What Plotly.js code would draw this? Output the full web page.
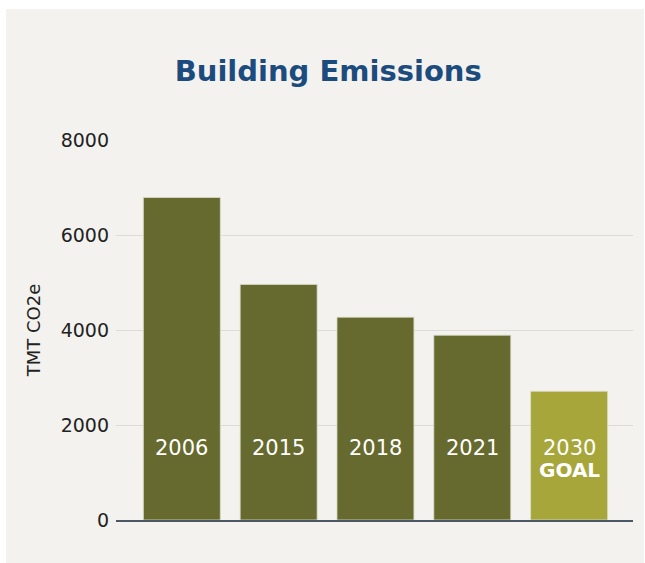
<!DOCTYPE html>
<html>
<head>
<meta charset="utf-8">
<script src="https://cdn.plot.ly/plotly-3.0.1.min.js"></script>
<style>
  html, body { margin: 0; padding: 0; background: #ffffff; width: 645px; height: 563px; overflow: hidden; }
  #chart { position: absolute; left: 6px; top: 9px; width: 638px; height: 554px; }
</style>
</head>
<body>
<div id="chart"></div>
<script>
const categories = ['2006', '2015', '2018', '2021', '2030'];
const barLabels = ['2006', '2015', '2018', '2021', '2030'];
const goalLabel = 'GOAL';
const goalIndex = 4;
const emissions = [6790, 4960, 4270, 3890, 2710];
const barColors = ['#666a2e', '#666a2e', '#666a2e', '#666a2e', '#a7a63b'];
const yTicks = [0, 2000, 4000, 6000, 8000];

const FONT = '"DejaVu Sans", sans-serif';

const trace = {
  type: 'bar',
  x: categories,
  y: emissions,
  width: 0.795,
  marker: { color: barColors, line: { color: 'rgba(220,220,200,0.8)', width: 1 } },
  hoverinfo: 'x+y'
};

const annotations = categories.map((c, i) => ({
  x: i, y: 1515, xref: 'x', yref: 'y',
  text: barLabels[i], showarrow: false,
  yanchor: 'middle',
  font: { family: FONT, size: 21, color: '#ffffff' }
}));
annotations.push({
  x: goalIndex, y: 1515, xref: 'x', yref: 'y', yshift: -22,
  text: '<b>' + goalLabel + '</b>', showarrow: false, yanchor: 'middle',
  font: { family: FONT, size: 20, color: '#ffffff' }
});

const layout = {
  width: 638, height: 554,
  margin: { l: 110, r: 11, t: 131, b: 43 },
  paper_bgcolor: '#f3f2ef',
  plot_bgcolor: '#f3f2ef',
  title: {
    text: '<b>Building Emissions</b>',
    x: 0.505, xanchor: 'center', y: 0.888, yanchor: 'middle',
    font: { family: FONT, size: 29, color: '#1c4b7e' }
  },
  showlegend: false,
  bargap: 0.2,
  xaxis: {
    type: 'category',
    range: [-0.68, 4.66],
    showticklabels: false,
    showgrid: false,
    zeroline: false,
    showline: true, linecolor: '#4b5966', linewidth: 2,
    ticks: '', fixedrange: true
  },
  yaxis: {
    range: [0, 8000],
    tickvals: yTicks,
    ticktext: yTicks.map(String),
    showgrid: true, gridcolor: '#dcdbd8', gridwidth: 1,
    zeroline: false, showline: false,
    ticks: '', ticklabelstandoff: 6,
    tickfont: { family: FONT, size: 19, color: '#222222' },
    title: { text: 'TMT CO2e', standoff: 15, font: { family: FONT, size: 18, color: '#222222' } },
    fixedrange: true
  },
  annotations: annotations
};

Plotly.newPlot('chart', [trace], layout, { displayModeBar: false, staticPlot: true });
</script>
</body>
</html>
